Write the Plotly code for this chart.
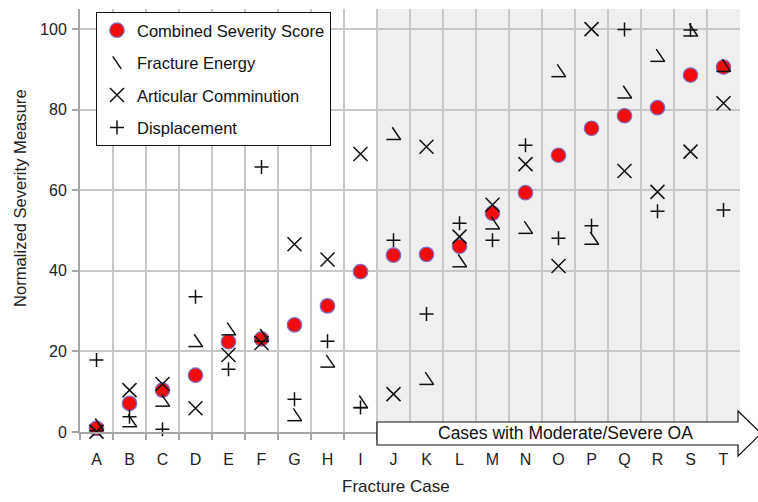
import plotly.graph_objects as go

categories = list("ABCDEFGHIJKLMNOPQRST")
combined = [0.9, 7.1, 10.4, 14.1, 22.4, 23.1, 26.6, 31.3, 39.8, 43.9,
            44.1, 46.1, 54.3, 59.4, 68.7, 75.4, 78.5, 80.5, 88.6, 90.6]
fracture_energy = [1.8, 2.8, 7.9, 22.7, 25.6, 24.0, 4.3, 17.6, 7.5, 74.1,
                   13.3, 42.5, 51.9, 50.8, 89.7, 48.1, 84.4, 93.5, 99.8, 91.0]
comminution = [0.1, 10.4, 11.9, 5.9, 19.1, 22.1, 46.6, 42.8, 69.0, 9.4,
               70.8, 48.5, 56.4, 66.5, 41.2, 100.0, 64.8, 59.6, 69.6, 81.6]
displacement = [17.9, 3.8, 0.7, 33.6, 15.6, 65.8, 8.1, 22.5, 6.1, 47.6,
                29.3, 51.8, 47.6, 71.2, 48.1, 51.2, 99.9, 54.8, 99.8, 55.1]
y_ticks = [0, 20, 40, 60, 80, 100]
oa_start = "J"

xi = list(range(len(categories)))
FONT = "Liberation Sans, Arial, sans-serif"

# pixel-to-data helpers for the two-stroke "fracture energy" glyph
PX_X = 660 / len(categories)
PX_Y = 423 / 105

fig = go.Figure()

fig.add_trace(go.Scatter(
    x=xi, y=combined, mode="markers", name="Combined Severity Score",
    legendgroup="a",
    marker=dict(symbol="circle", size=14.5, color="#f20d0d",
                line=dict(color="#7f70c8", width=1.2)),
    cliponaxis=False))

fig.add_trace(go.Scatter(
    x=[v + 3 / PX_X for v in xi], y=fracture_energy, mode="markers",
    name="Fracture Energy", legendgroup="b",
    marker=dict(symbol="line-ns", size=10.8, angle=-34,
                line=dict(color="#111111", width=1.5)),
    cliponaxis=False))
fig.add_trace(go.Scatter(
    x=xi, y=[v - 6 / PX_Y for v in fracture_energy], mode="markers",
    name="Fracture Energy", legendgroup="b", showlegend=False,
    marker=dict(symbol="line-ew", size=10.2,
                line=dict(color="#111111", width=1.5)),
    cliponaxis=False))

fig.add_trace(go.Scatter(
    x=xi, y=comminution, mode="markers", name="Articular Comminution",
    legendgroup="c",
    marker=dict(symbol="x-thin", size=14,
                line=dict(color="#111111", width=1.5)),
    cliponaxis=False))

fig.add_trace(go.Scatter(
    x=xi, y=displacement, mode="markers", name="Displacement",
    legendgroup="d",
    marker=dict(symbol="cross-thin", size=10,
                line=dict(color="#111111", width=1.5)),
    cliponaxis=False))

n = len(categories)
j0 = categories.index(oa_start) - 0.5
boundaries = [i - 0.5 for i in range(n + 1)]

shapes = [
    dict(type="rect", xref="x", yref="paper", x0=j0, x1=n - 0.5, y0=0, y1=1,
         fillcolor="#efefef", line=dict(width=0), layer="below"),
]
# arrow banner
xs = (j0 + 0.5) / n
path = (f"M{xs},0.0236 L0.997,0.0236 L0.997,0.0496 L1.032,-0.0035 "
        f"L0.997,-0.0567 L0.997,-0.0307 L{xs},-0.0307 Z")
shapes.append(dict(type="path", xref="paper", yref="paper", path=path,
                   fillcolor="white", line=dict(color="#111111", width=1.2),
                   layer="above"))

annotations = [
    dict(text="Cases with Moderate/Severe OA", xref="paper", yref="paper",
         x=0.735, y=-0.0035, showarrow=False, xanchor="center", yanchor="middle",
         font=dict(family=FONT, size=17.5, color="#111111")),
    dict(text="Normalized Severity Measure", xref="paper", yref="paper",
         x=-0.091, y=0.553, showarrow=False, textangle=-90,
         xanchor="center", yanchor="middle",
         font=dict(family=FONT, size=16.6, color="#222222")),
    dict(text="Fracture Case", xref="paper", yref="paper",
         x=0.4795, y=-0.130, showarrow=False, xanchor="center", yanchor="middle",
         font=dict(family=FONT, size=17, color="#222222")),
]

fig.update_layout(
    width=758, height=502,
    margin=dict(l=80, r=18, t=9, b=70),
    paper_bgcolor="white", plot_bgcolor="white",
    font=dict(family=FONT, size=15, color="#222222"),
    shapes=shapes, annotations=annotations,
    showlegend=True,
    legend=dict(x=0.0242, y=0.993, xanchor="left", yanchor="top",
                bgcolor="white", bordercolor="#111111", borderwidth=1,
                font=dict(family=FONT, size=16.5, color="#111111"),
                tracegroupgap=8, itemsizing="trace"),
)

fig.update_xaxes(
    range=[-0.5, n - 0.5], tickmode="array", tickvals=xi, ticktext=categories,
    showgrid=False, ticks="", showline=True, linecolor="#a6a6a6", linewidth=2,
    zeroline=False, ticklabelstandoff=12,
    tickfont=dict(family=FONT, size=16, color="#222222"),
    minor=dict(tickmode="array", tickvals=boundaries, ticks="outside",
               ticklen=6, tickcolor="#a6a6a6", tickwidth=1.5,
               showgrid=True, gridcolor="#c8c8c8", gridwidth=1.5),
)
fig.update_yaxes(
    range=[0, 105], tickmode="array", tickvals=y_ticks,
    showgrid=True, gridcolor="#c8c8c8", gridwidth=1.5,
    ticks="outside", ticklen=6, tickcolor="#a6a6a6", tickwidth=1.5,
    showline=True, linecolor="#a6a6a6", linewidth=2, zeroline=False,
    ticklabelstandoff=2,
    tickfont=dict(family=FONT, size=16, color="#222222"),
)

fig.write_html(
    "out.html",
    config={"displayModeBar": False},
    post_script="document.body.style.margin='0';document.body.style.padding='0';",
)
